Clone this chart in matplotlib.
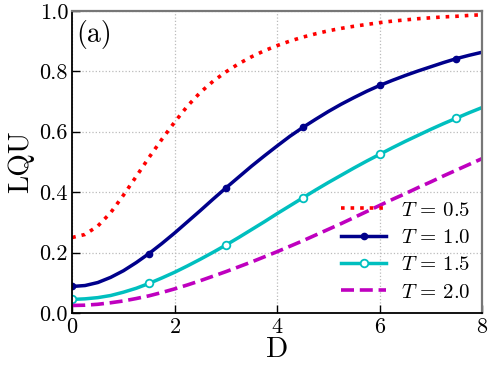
import matplotlib
matplotlib.use('Agg')
import matplotlib.pyplot as plt

# Computer Modern style text
matplotlib.rcParams['font.family'] = 'serif'
matplotlib.rcParams['font.serif'] = ['cmr10']
matplotlib.rcParams['mathtext.fontset'] = 'cm'
matplotlib.rcParams['axes.unicode_minus'] = False
matplotlib.rcParams['axes.formatter.use_mathtext'] = True

# values every 0.25 in D
D = [i * 0.25 for i in range(33)]
lqu_05 = [0.250, 0.260, 0.288, 0.332, 0.390, 0.452, 0.515, 0.575, 0.632,
          0.685, 0.730, 0.767, 0.798, 0.825, 0.848, 0.868, 0.885, 0.900,
          0.913, 0.924, 0.934, 0.942, 0.949, 0.955, 0.961, 0.966, 0.970,
          0.974, 0.977, 0.980, 0.982, 0.985, 0.987]
lqu_10 = [0.088, 0.091, 0.101, 0.118, 0.140, 0.167, 0.197, 0.230, 0.265,
          0.302, 0.339, 0.377, 0.414, 0.450, 0.486, 0.520, 0.553, 0.585,
          0.614, 0.641, 0.667, 0.691, 0.713, 0.734, 0.753, 0.770, 0.786,
          0.801, 0.815, 0.829, 0.842, 0.853, 0.863]
lqu_15 = [0.045, 0.047, 0.051, 0.058, 0.069, 0.082, 0.098, 0.116, 0.135,
          0.156, 0.178, 0.201, 0.225, 0.250, 0.276, 0.302, 0.329, 0.355,
          0.381, 0.407, 0.432, 0.456, 0.480, 0.503, 0.525, 0.547, 0.568,
          0.588, 0.608, 0.627, 0.645, 0.663, 0.680]
lqu_20 = [0.025, 0.026, 0.029, 0.034, 0.040, 0.048, 0.057, 0.068, 0.080,
          0.093, 0.107, 0.122, 0.137, 0.153, 0.169, 0.186, 0.203, 0.221,
          0.239, 0.258, 0.277, 0.296, 0.316, 0.336, 0.356, 0.376, 0.395,
          0.415, 0.434, 0.454, 0.473, 0.492, 0.511]

fig = plt.figure(figsize=(4.98, 3.74), dpi=100)
ax = fig.add_axes([0.145, 0.163, 0.823, 0.808])

ax.plot(D, lqu_05, ':', color='red', lw=2.6, label=r'$T\,=\,0.5$')
ax.plot(D, lqu_10, '-', color='#00008B', lw=2.5, marker='o', ms=4.5,
        markevery=6, label=r'$T\,=\,1.0$')
ax.plot(D, lqu_15, '-', color='#00BFBF', lw=2.5, marker='o', ms=5.5,
        mfc='white', mec='#00BFBF', mew=1.3, markevery=6, label=r'$T\,=\,1.5$')
ax.plot(D, lqu_20, '--', color='#BF00BF', lw=2.6, dashes=(3.6, 1.6),
        label=r'$T\,=\,2.0$')

ax.set_xlim(0, 8)
ax.set_ylim(0, 1)
ax.set_xticks([0, 2, 4, 6, 8])
ax.set_yticks([0.0, 0.2, 0.4, 0.6, 0.8, 1.0])
ax.set_yticklabels(['0.0', '0.2', '0.4', '0.6', '0.8', '1.0'])
ax.tick_params(direction='in', length=6, width=1, labelsize=16, pad=3)
ax.grid(True, linestyle=':', color='#bbbbbb', lw=0.9)

for s in ['left', 'bottom']:
    ax.spines[s].set_linewidth(1.3)
    ax.spines[s].set_color('black')
for s in ['top', 'right']:
    ax.spines[s].set_linewidth(1.6)
    ax.spines[s].set_color('#777777')

ax.set_xlabel('D', fontsize=21, labelpad=0)
ax.set_ylabel('LQU', fontsize=21, labelpad=4)
ax.text(0.01, 0.97, '(a)', transform=ax.transAxes, fontsize=20,
        va='top', ha='left')

ax.legend(loc='lower right', frameon=False, fontsize=15, numpoints=1,
          handlelength=2.2, handletextpad=0.7, labelspacing=0.42,
          borderaxespad=0.15)

fig.savefig('out.png', dpi=100)
